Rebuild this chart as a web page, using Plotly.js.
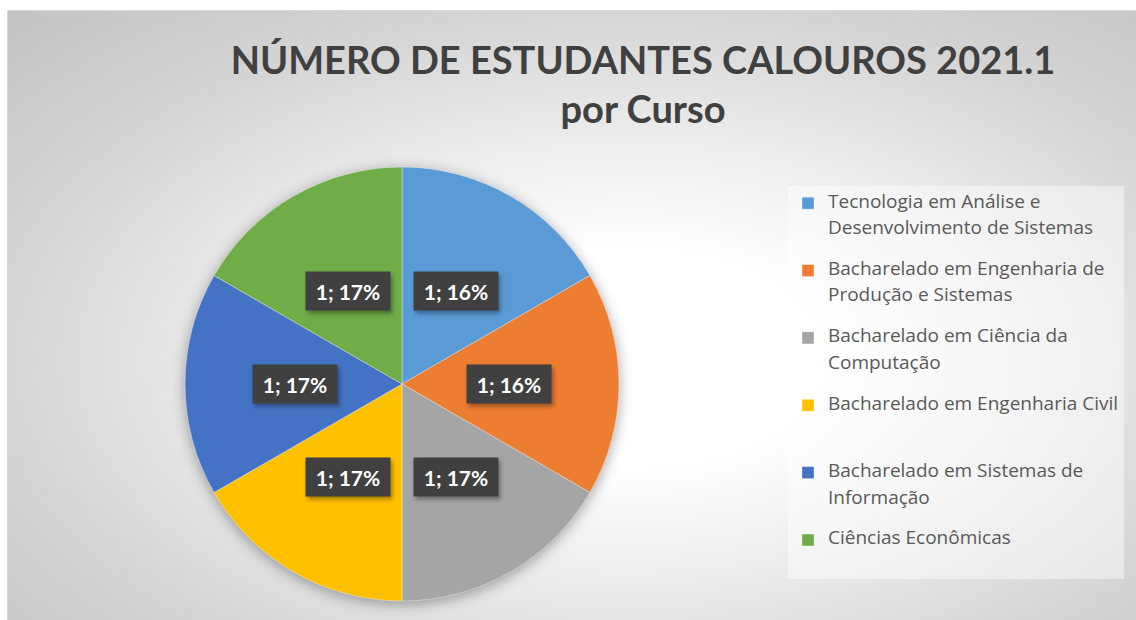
<!DOCTYPE html>
<html>
<head>
<meta charset="utf-8">
<script src="https://cdn.plot.ly/plotly-3.0.1.min.js"></script>
<style>
  html, body { margin: 0; padding: 0; background: #ffffff; }
  #bg {
    position: absolute; left: 7px; top: 10px; width: 1129px; height: 610px;
    border-top: 1px solid #d9d9d9; border-left: 1px solid #d9d9d9;
    box-sizing: border-box;
    background: radial-gradient(ellipse farthest-corner at 55% 57%, #ffffff 0%, #ffffff 22%, #ececec 45%, #d4d4d4 72%, #c3c3c3 100%);
  }
  #chart { position: absolute; left: 0; top: 0; width: 1136px; height: 620px; }
  .pielayer { filter: drop-shadow(0px 3px 7px rgba(0,0,0,0.35)); }
  .annotation rect.bg { filter: drop-shadow(2px 3px 2px rgba(0,0,0,0.35)); }
</style>
</head>
<body>
<div id="bg"></div>
<div id="chart"></div>
<script>
// ---- data ----
const categories = [
  "Tecnologia em Análise e Desenvolvimento de Sistemas",
  "Bacharelado em Engenharia de Produção e Sistemas",
  "Bacharelado em Ciência da Computação",
  "Bacharelado em Engenharia Civil",
  "Bacharelado em Sistemas de Informação",
  "Ciências Econômicas"
];
const legendLines = [
  ["Tecnologia em Análise e", "Desenvolvimento de Sistemas"],
  ["Bacharelado em Engenharia de", "Produção e Sistemas"],
  ["Bacharelado em Ciência da", "Computação"],
  ["Bacharelado em Engenharia Civil", " "],
  ["Bacharelado em Sistemas de", "Informação"],
  ["Ciências Econômicas"]
];
const values = [1, 1, 1, 1, 1, 1];
const percentShown = [16, 16, 17, 17, 17, 17];
const colors = ["#5B9BD5", "#ED7D31", "#A5A5A5", "#FFC000", "#4472C4", "#70AD47"];

// legend entries: first line nudged up, second line nudged down (Excel-like line spacing),
// plus a spacer line to reproduce the gap between entries
const lineShift = ["2px", "-3px"];
const legendLabels = legendLines.map(lines =>
  lines.map((t, k) => '<span style="font-size:19px;baseline-shift:' + lineShift[k] + '">' + t + '</span>').join("<br>") + "<br> "
);

// ---- layout geometry ----
const W = 1136, H = 620;
const domX = [185 / W, 619 / W];
const domY = [1 - 601 / H, 1 - 167 / H];

const trace = {
  type: "pie",
  labels: legendLabels,
  values: values,
  sort: false,
  direction: "clockwise",
  rotation: 0,
  textinfo: "none",
  hoverinfo: "label+value+percent",
  marker: { colors: colors, line: { color: "rgba(255,255,255,0.6)", width: 0.6 } },
  domain: { x: domX, y: domY },
  customdata: categories
};

// data labels placed at each slice's mid-angle, derived from the values
const total = values.reduce((a, b) => a + b, 0);
const Rpx = Math.min((domX[1] - domX[0]) * W, (domY[1] - domY[0]) * H) / 2;
const cx = (domX[0] + domX[1]) / 2, cy = (domY[0] + domY[1]) / 2;
const labelRadius = 0.495;
let cum = 0;
const annotations = values.map((v, i) => {
  const th = (cum + v / 2) / total * 2 * Math.PI;
  cum += v;
  return {
    xref: "paper", yref: "paper",
    x: cx + labelRadius * Rpx * Math.sin(th) / W,
    y: cy + labelRadius * Rpx * Math.cos(th) / H,
    text: "<b>" + v + "; " + percentShown[i] + "%</b>",
    showarrow: false,
    font: { family: "Lato, 'Open Sans', sans-serif", size: 21, color: "#ffffff" },
    bgcolor: "#404040",
    borderpad: 7,
    width: 70,
    height: 24,
    xanchor: "center", yanchor: "middle"
  };
});

const layout = {
  width: W, height: H,
  margin: { l: 0, r: 0, t: 0, b: 0 },
  paper_bgcolor: "rgba(0,0,0,0)",
  plot_bgcolor: "rgba(0,0,0,0)",
  font: { family: "'Open Sans', Lato, sans-serif", color: "#595959" },
  title: {
    text: "NÚMERO DE ESTUDANTES CALOUROS 2021.1<br>por Curso",
    font: { family: "Lato, 'Open Sans', sans-serif", size: 38, color: "#404040", weight: 700 },
    xref: "container", yref: "container",
    x: 643 / W, xanchor: "center",
    y: 1 - 74 / H, yanchor: "top"
  },
  showlegend: true,
  legend: {
    x: 788 / W, y: 1 - 186 / H, xanchor: "left", yanchor: "top",
    bgcolor: "rgba(255,255,255,0.45)",
    borderwidth: 0,
    valign: "top",
    font: { family: "'Open Sans', Lato, sans-serif", size: 16.5, color: "#595959" },
    itemclick: false, itemdoubleclick: false
  },
  annotations: annotations
};

Plotly.newPlot("chart", [trace], layout, { displayModeBar: false, staticPlot: true });
</script>
</body>
</html>
